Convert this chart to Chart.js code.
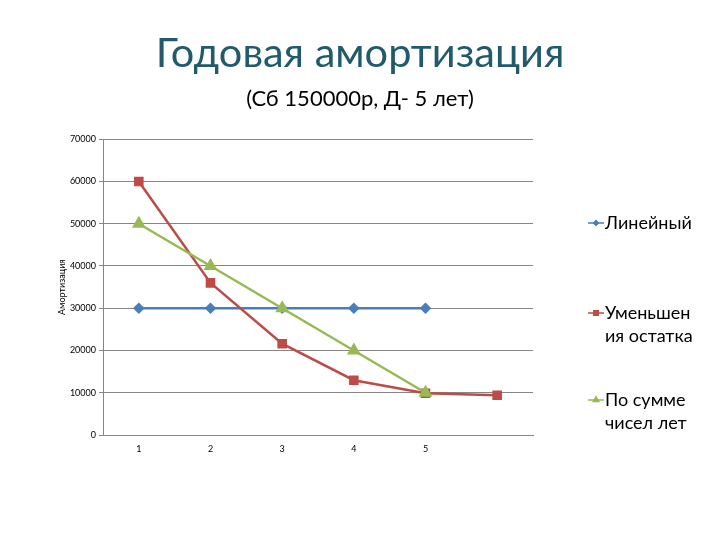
<!DOCTYPE html>
<html>
<head>
<meta charset="utf-8">
<script src="https://cdn.jsdelivr.net/npm/chart.js@4/dist/chart.umd.min.js"></script>
<style>
  html, body { margin: 0; padding: 0; background: #fff; }
  #wrap { position: relative; width: 720px; height: 540px; }
</style>
</head>
<body>
<div id="wrap"><canvas id="c" width="720" height="540"></canvas></div>
<script>
const years = ['1', '2', '3', '4', '5', ''];
const linear = [30000, 30000, 30000, 30000, 30000, null];
const decliningBalance = [60000, 36000, 21600, 12960, 9900, 9400];
const sumOfYears = [50000, 40000, 30000, 20000, 10000, null];
const seriesNames = [['Линейный'], ['Уменьшен', 'ия остатка'], ['По сумме', 'чисел лет']];
const yTicks = [0, 10000, 20000, 30000, 40000, 50000, 60000, 70000];

const FONT = 'Lato, "Open Sans", sans-serif';
const GRID = '#868686';

// legend drawn by hand: Excel spreads the items down the right side
const sideLegend = {
  id: 'sideLegend',
  afterDraw(chart) {
    const ctx = chart.ctx;
    const rows = [223, 313, 400];
    ctx.save();
    chart.data.datasets.forEach((ds, i) => {
      const y = rows[i];
      ctx.strokeStyle = ds.borderColor;
      ctx.lineWidth = 1.5;
      ctx.beginPath();
      ctx.moveTo(588, y);
      ctx.lineTo(604, y);
      ctx.stroke();
      ctx.fillStyle = ds.backgroundColor;
      Chart.helpers.drawPoint(ctx, {
        pointStyle: ds.pointStyle, radius: ds.pointRadius * 0.85, borderWidth: 0, rotation: 0
      }, 596, y);
      ctx.fillStyle = '#000';
      ctx.font = '18px ' + FONT;
      ctx.textBaseline = 'middle';
      ctx.textAlign = 'left';
      seriesNames[i].forEach((line, k) => ctx.fillText(line, 605, y + k * 23));
    });
    ctx.restore();
  }
};

new Chart(document.getElementById('c'), {
  type: 'line',
  data: {
    labels: years,
    datasets: [
      {
        label: seriesNames[0].join(''),
        data: linear,
        borderColor: '#4A7EBB',
        backgroundColor: '#4A7EBB',
        borderWidth: 2.5,
        pointStyle: 'rectRot',
        pointRadius: 4,
        order: 3
      },
      {
        label: seriesNames[1].join(''),
        data: decliningBalance,
        borderColor: '#BE4B48',
        backgroundColor: '#BE4B48',
        borderWidth: 2.5,
        pointStyle: 'rect',
        pointRadius: 5,
        order: 2
      },
      {
        label: seriesNames[2].join(''),
        data: sumOfYears,
        borderColor: '#98B954',
        backgroundColor: '#98B954',
        borderWidth: 2.5,
        pointStyle: 'triangle',
        pointRadius: 5.5,
        order: 1
      }
    ]
  },
  options: {
    responsive: false,
    animation: false,
    layout: { padding: { left: 0, right: 0, top: 0, bottom: 60 } },
    scales: {
      x: {
        offset: true,
        afterFit: s => { s.height = 45; },
        grid: { display: false, drawTicks: false },
        border: { color: GRID, width: 1 },
        ticks: { color: '#000', font: { family: FONT, size: 9 }, padding: 9, maxRotation: 0 }
      },
      y: {
        min: 0,
        max: 70000,
        afterFit: s => { s.width = 103; },
        afterBuildTicks: s => { s.ticks = yTicks.map(v => ({ value: v })); },
        grid: { color: GRID, lineWidth: 1, tickLength: 4 },
        border: { color: GRID, width: 1 },
        ticks: { color: '#000', font: { family: FONT, size: 9 }, padding: 3, callback: v => String(v) },
        title: {
          display: true,
          text: 'Амортизация',
          color: '#000',
          font: { family: FONT, size: 9 },
          padding: { top: 57, bottom: 0 }
        }
      },
      // empty right-hand column that leaves room for the legend
      side: {
        position: 'right',
        afterFit: s => { s.width = 187; },
        grid: { display: false, drawTicks: false },
        border: { display: false },
        ticks: { display: false }
      }
    },
    plugins: {
      legend: { display: false },
      tooltip: { enabled: false },
      title: {
        display: true,
        text: 'Годовая амортизация',
        color: '#215A6B',
        font: { family: FONT, size: 41.5, weight: 'normal' },
        padding: { top: 29, bottom: 0 }
      },
      subtitle: {
        display: true,
        text: '(Сб 150000р, Д- 5 лет)',
        color: '#000',
        font: { family: FONT, size: 22 },
        padding: { top: 7, bottom: 27 }
      }
    }
  },
  plugins: [sideLegend]
});
</script>
</body>
</html>
